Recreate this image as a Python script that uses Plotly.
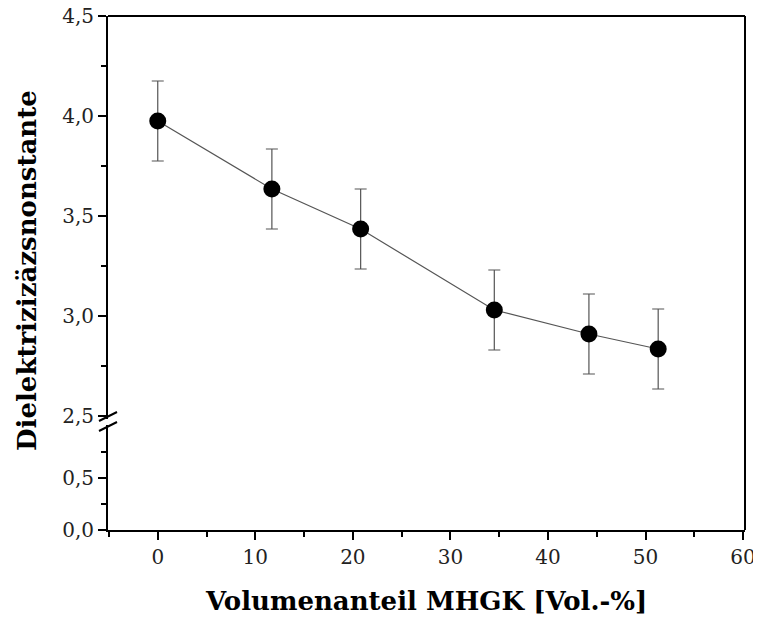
import plotly.graph_objects as go

# Data
x_vol = [0, 11.7, 20.8, 34.5, 44.2, 51.3]
y_eps = [3.975, 3.635, 3.435, 3.03, 2.91, 2.835]
y_err = [0.2, 0.2, 0.2, 0.2, 0.2, 0.2]

x_ticks = [0, 10, 20, 30, 40, 50, 60]
y_upper_ticks = [2.5, 3.0, 3.5, 4.0, 4.5]
y_lower_ticks = [0.0, 0.5]

# page body offset (default 8px margin of the html page)
OFF = 8
VW, VH = 761, 617
PL, PR, PT, PB = 108, 745, 16, 530   # plot area in viewport pixels
W, H = VW - OFF, VH - OFF
L, T = PL - OFF, PT - OFF
R, B = W - (PR - OFF), H - (PB - OFF)
PW, PH = PR - PL, PB - PT

def px(xp):
    return (xp - PL) / PW

def py(yp):
    return (PB - yp) / PH

brk = py(426)
FONT = "DejaVu Serif"

fig = go.Figure()
for ax in ["y2", "y"]:
    fig.add_trace(go.Scatter(
        x=x_vol, y=y_eps, mode="lines+markers", yaxis=ax, xaxis="x",
        line=dict(color="#555555", width=1.2),
        marker=dict(color="black", size=17),
        error_y=dict(type="data", array=y_err, color="#555555", thickness=1.2, width=6),
        showlegend=False, cliponaxis=True,
    ))

axis_common = dict(
    showgrid=False, zeroline=False, showline=True, linecolor="black", linewidth=2,
    ticks="outside", ticklen=8, tickwidth=1.5, tickcolor="black", automargin=False,
    ticklabeloverflow="allow",
    tickfont=dict(family=FONT, size=20, color="#222222"),
)

fig.update_layout(
    width=W, height=H, autosize=False,
    margin=dict(l=L, r=R, t=T, b=B, pad=0),
    paper_bgcolor="white", plot_bgcolor="white",
    separators=",.",
    xaxis=dict(range=[-5.1, 60.2], tickvals=x_ticks, anchor="y",
               minor=dict(dtick=5, ticks="outside", ticklen=5, tickwidth=1.5, tickcolor="black"),
               **axis_common),
    yaxis=dict(domain=[0, brk], range=[0, 1.0], tickvals=y_lower_ticks, tickformat=".1f",
               anchor="x",
               minor=dict(tickvals=[0.25, 0.75], ticks="outside", ticklen=5, tickwidth=1.5, tickcolor="black"),
               **axis_common),
    yaxis2=dict(domain=[brk, 1], range=[2.45, 4.5], tickvals=y_upper_ticks, tickformat=".1f",
                anchor="x",
                minor=dict(tickvals=[2.75, 3.25, 3.75, 4.25], ticks="outside", ticklen=5, tickwidth=1.5, tickcolor="black"),
                **axis_common),
)

# frame (top & right)
fig.add_shape(type="line", xref="paper", yref="paper", x0=0, x1=1, y0=1, y1=1,
              line=dict(color="black", width=2))
fig.add_shape(type="line", xref="paper", yref="paper", x0=1, x1=1, y0=0, y1=1,
              line=dict(color="black", width=2))

# axis break marks
fig.add_shape(type="rect", xref="paper", yref="paper", x0=px(105), x1=px(111), y0=py(425), y1=py(419),
              line=dict(width=0), fillcolor="white")
fig.add_shape(type="line", xref="paper", yref="paper", x0=px(99), y0=py(421), x1=px(117), y1=py(412),
              line=dict(color="black", width=2))
fig.add_shape(type="line", xref="paper", yref="paper", x0=px(99), y0=py(431), x1=px(117), y1=py(422),
              line=dict(color="black", width=2))

fig.add_annotation(text="<b>Dielektrizizäzsnonstante</b>", xref="paper", yref="paper",
                   x=px(27), y=py(271), textangle=-90, showarrow=False,
                   xanchor="center", yanchor="middle",
                   font=dict(family=FONT, size=26, color="black"))
fig.add_annotation(text="<b>Volumenanteil MHGK [Vol.-%]</b>", xref="paper", yref="paper",
                   x=px(426), y=py(601), showarrow=False,
                   xanchor="center", yanchor="middle",
                   font=dict(family=FONT, size=26, color="black"))

fig.write_html("out.html")
